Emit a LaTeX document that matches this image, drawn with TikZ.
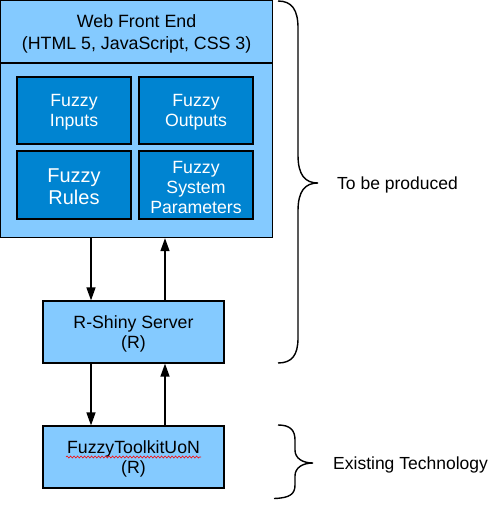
\documentclass[tikz,border=0pt]{standalone}
\usepackage{fontspec}
\setmainfont{Liberation Sans}
\usetikzlibrary{arrows.meta,decorations.pathmorphing}
\definecolor{lightb}{HTML}{84CAFF}
\definecolor{darkb}{HTML}{0084D1}
\tikzset{
  lbox/.style={draw=black,line width=1.2pt,fill=lightb,inner sep=0pt},
  dbox/.style={draw=black,line width=1.2pt,fill=darkb,inner sep=0pt,minimum width=114pt},
  btext/.style={inner sep=0pt,align=center,font=\fontsize{17.7}{20}\selectfont},
  wtext/.style={btext,text=white},
  conn/.style={line width=1.4pt,-{Triangle[length=13pt,width=9pt]}},
  brace/.style={line width=1.4pt},
  lbl/.style={anchor=west,inner sep=0pt,font=\fontsize{17.5}{20}\selectfont}
}
\begin{document}
\begin{tikzpicture}[x=1pt,y=-1pt]
\useasboundingbox (0,0) rectangle (496,516);
% outer
\node[lbox,minimum width=272pt,minimum height=237pt] (outer) at (136.6,119.1) {};
\draw[line width=1.2pt] (outer.west |- 0,63) -- (outer.east |- 0,63);
\node[btext,font=\fontsize{17.8}{22}\selectfont] (title) at (136.6,34) {Web Front End\\(HTML 5, JavaScript, CSS 3)};
% inner
\node[dbox,minimum height=67pt] (inputs) at (74,110.5) {};
\node[wtext] (inputs-t) at ([yshift=-2pt]inputs.center) {Fuzzy\\Inputs};
\node[dbox,minimum height=67pt] (outputs) at (196,110.5) {};
\node[wtext] (outputs-t) at ([yshift=-2pt]outputs.center) {Fuzzy\\Outputs};
\node[dbox,minimum height=68pt] (rules) at (74,185) {};
\node[wtext,font=\fontsize{20}{22}\selectfont] (rules-t) at ([yshift=-2pt]rules.center) {Fuzzy\\Rules};
\node[dbox,minimum height=68pt] (params) at (196,185) {};
\node[wtext] (params-t) at ([yshift=-2pt]params.center) {Fuzzy\\System\\Parameters};
% lower boxes
\node[lbox,minimum width=181pt,minimum height=62pt] (shiny) at (133.5,332) {};
\node[btext] (shiny-t) at ([yshift=-2pt]shiny.center) {R-Shiny Server\\(R)};
\node[lbox,minimum width=181pt,minimum height=62pt] (toolkit) at (133.5,457) {};
\node[btext] (toolkit-t) at ([yshift=-2pt]toolkit.center) {FuzzyToolkitUoN\\(R)};
\coordinate (ul1) at (66,457);
\coordinate (ul2) at (201,457);
\draw[red,line width=0.6pt,decorate,decoration={snake,amplitude=1pt,segment length=3.5pt}] (ul1) -- (ul2);
% connectors
\draw[conn] (outer.south -| 91,0) -- (shiny.north -| 91,0);
\draw[conn] (shiny.north -| 165,0) -- (outer.south -| 165,0);
\draw[conn] (shiny.south -| 91,0) -- (toolkit.north -| 91,0);
\draw[conn] (toolkit.north -| 165,0) -- (shiny.south -| 165,0);
% braces
\draw[brace] (278,1) .. controls (292,1) and (298,10) .. (298,28) -- (298,155) .. controls (298,175) and (305,183) .. (318,183) .. controls (305,183) and (298,191) .. (298,211) -- (298,338) .. controls (298,355) and (292,363) .. (278,363);
\draw[brace] (278,425) .. controls (290,425) and (295,430) .. (295,440) -- (295,450) .. controls (295,458) and (302,463) .. (313,463) .. controls (302,463) and (295,468) .. (295,476) -- (295,485) .. controls (295,494) and (290,498) .. (274,498.5);
\node[lbl] (prod) at (337,185) {To be produced};
\node[lbl] (exist) at (333,465) {Existing Technology};
\end{tikzpicture}
\end{document}
